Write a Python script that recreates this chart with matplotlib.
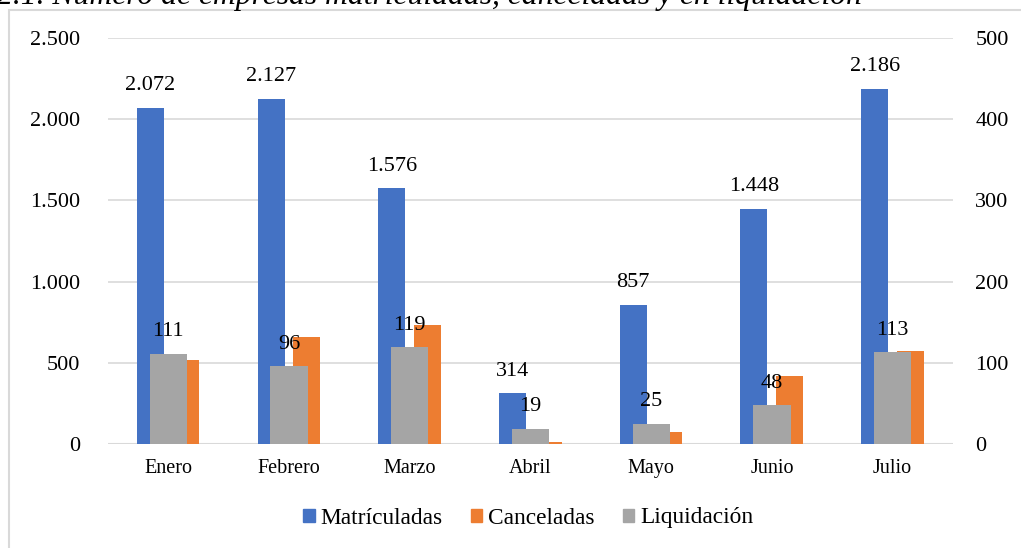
import matplotlib.pyplot as plt
from matplotlib.patches import Rectangle
from matplotlib.ticker import FuncFormatter
import numpy as np

meses = ["Enero", "Febrero", "Marzo", "Abril", "Mayo", "Junio", "Julio"]
matriculadas = [2072, 2127, 1576, 314, 857, 1448, 2186]
canceladas = [104, 132, 147, 3, 15, 84, 114]
liquidacion = [111, 96, 119, 19, 25, 48, 113]

azul = "#4472c4"
naranja = "#ed7d31"
gris = "#a5a5a5"
linea = "#d9d9d9"

plt.rcParams['font.family'] = ['Liberation Serif', 'DejaVu Serif']


def miles(v, pos):
    return f"{int(v):,}".replace(",", ".")


def main():
    fig = plt.figure(figsize=(10.21, 5.48), dpi=100)
    W, H = 1021, 548
    ax = fig.add_axes([108 / W, 1 - 444 / H, (953 - 108) / W, (444 - 38) / H])
    ax2 = ax.twinx()

    x = np.arange(len(meses))

    # eje principal: matriculadas
    ax.bar(x - 0.149, matriculadas, width=0.224, color=azul, zorder=2)
    ax.set_ylim(0, 2500)
    ax.set_yticks(np.arange(0, 2501, 500))
    ax.yaxis.set_major_formatter(FuncFormatter(miles))
    ax.set_xlim(-0.5, len(meses) - 0.5)
    ax.set_xticks(x)
    ax.set_xticklabels(meses, fontsize=14.5)
    ax.grid(axis='y', color=linea, lw=1.2, zorder=0)
    ax.set_axisbelow(True)
    for s in ax.spines.values():
        s.set_visible(False)
    ax.tick_params(length=0)
    ax.tick_params(axis='y', labelsize=16, pad=20)
    ax.tick_params(axis='x', pad=11)

    for xi, v in zip(x, matriculadas):
        ax.annotate(miles(v, None), (xi - 0.149, v), xytext=(0, 9), textcoords='offset points',
                    ha='center', va='bottom', fontsize=16)

    # eje secundario: canceladas y liquidación
    ax2.bar(x + 0.145, canceladas, width=0.224, color=naranja, zorder=2)
    ax2.bar(x, liquidacion, width=0.31, color=gris, zorder=3)
    ax2.set_ylim(0, 500)
    ax2.set_yticks(np.arange(0, 501, 100))
    for s in ax2.spines.values():
        s.set_visible(False)
    ax2.tick_params(length=0, labelsize=16, pad=16)

    for xi, v in zip(x, liquidacion):
        ax2.annotate(str(v), (xi, v), xytext=(0, 9), textcoords='offset points',
                     ha='center', va='bottom', fontsize=16, zorder=5)

    ax.axhline(0, color=linea, lw=1.5, zorder=1)

    # leyenda
    handles = [Rectangle((0, 0), 1, 1, color=c) for c in (azul, naranja, gris)]
    fig.legend(handles, ["Matrículadas", "Canceladas", "Liquidación"], loc='center',
               bbox_to_anchor=(528 / W, 1 - 518 / H), ncol=3, frameon=False, fontsize=16.8,
               handlelength=0.5, handleheight=0.5, handletextpad=0.25, columnspacing=1.2)

    # marco y título (cortado arriba, como en el original)
    fig.patches.append(Rectangle((9 / W, -0.1), 1.2, 1.1 - 10 / H, transform=fig.transFigure,
                                 fill=False, edgecolor=linea, lw=1.5))
    fig.text(862 / W, 1 - 4 / H, "2.1. Número de empresas matriculadas, canceladas y en liquidación",
             ha='right', va='baseline', fontsize=22.8, style='italic')

    fig.savefig("out.png", dpi=100)


if __name__ == "__main__":
    main()
